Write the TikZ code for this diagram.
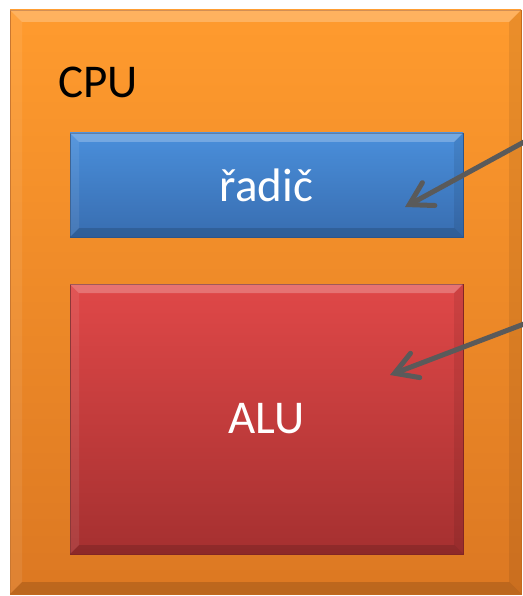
\documentclass[tikz,border=0pt]{standalone}
\usepackage{fontspec}
\setmainfont{Carlito}
\usetikzlibrary{arrows.meta}
\definecolor{orTop}{HTML}{FF9B2E}
\definecolor{orBot}{HTML}{DC7822}
\definecolor{blTop}{HTML}{4A8FDB}
\definecolor{blBot}{HTML}{386DB0}
\definecolor{rdTop}{HTML}{E04848}
\definecolor{rdBot}{HTML}{A53030}
\definecolor{arrGray}{HTML}{5A5A5A}
\tikzset{
  panel/.style={rectangle, inner sep=0pt, outer sep=0pt},
  cpubox/.style={panel, top color=orTop, bottom color=orBot, draw=orBot!90!black, line width=0.6pt},
  radicbox/.style={panel, top color=blTop, bottom color=blBot, draw=blBot!80!black, line width=0.8pt},
  alubox/.style={panel, top color=rdTop, bottom color=rdBot, draw=rdBot!80!black, line width=0.8pt},
  boxtext/.style={text=white, font=\fontsize{47}{52}\selectfont},
  cputext/.style={text=black, font=\fontsize{47}{52}\selectfont, inner sep=0pt},
  arr/.style={draw=arrGray, line width=5pt, line cap=round, -{Straight Barb[length=22pt, width=26pt, line cap=round]}},
}
\newcommand{\bevel}[2]{%
  \fill[white, opacity=0.24] (#1.north west) -- (#1.north east) -- ([shift={(-#2,#2)}]#1.north east) -- ([shift={(#2,#2)}]#1.north west) -- cycle;
  \fill[white, opacity=0.08] (#1.north west) -- ([shift={(#2,#2)}]#1.north west) -- ([shift={(#2,-#2)}]#1.south west) -- (#1.south west) -- cycle;
  \fill[black, opacity=0.14] (#1.south west) -- (#1.south east) -- ([shift={(-#2,-#2)}]#1.south east) -- ([shift={(#2,-#2)}]#1.south west) -- cycle;
  \fill[black, opacity=0.08] (#1.north east) -- (#1.south east) -- ([shift={(-#2,-#2)}]#1.south east) -- ([shift={(-#2,#2)}]#1.north east) -- cycle;
}
\begin{document}
\begin{tikzpicture}[x=1pt, y=-1pt]
  \useasboundingbox[fill=white] (0,0) rectangle (522,596);
  \node[cpubox, minimum width=511pt, minimum height=584pt] (cpu) at (265.5,302) {};
  \bevel{cpu}{12}
  \node[cputext] (cpulabel) at (98,82) {CPU};
  \node[radicbox, minimum width=393pt, minimum height=104pt] (radic) at (266.5,185) {};
  \bevel{radic}{9}
  \node[alubox, minimum width=393pt, minimum height=270pt] (alu) at (266.5,419) {};
  \bevel{alu}{9}
  \node[boxtext] (radictext) at (radic) {řadič};
  \node[boxtext] (alutext) at (alu) {ALU};
  \coordinate (s1) at (524,142);
  \coordinate (e1) at (405,207);
  \coordinate (s2) at (524,324);
  \coordinate (e2) at (390,375);
  \draw[arr] (s1) -- (e1);
  \draw[arr] (s2) -- (e2);
\end{tikzpicture}
\end{document}
